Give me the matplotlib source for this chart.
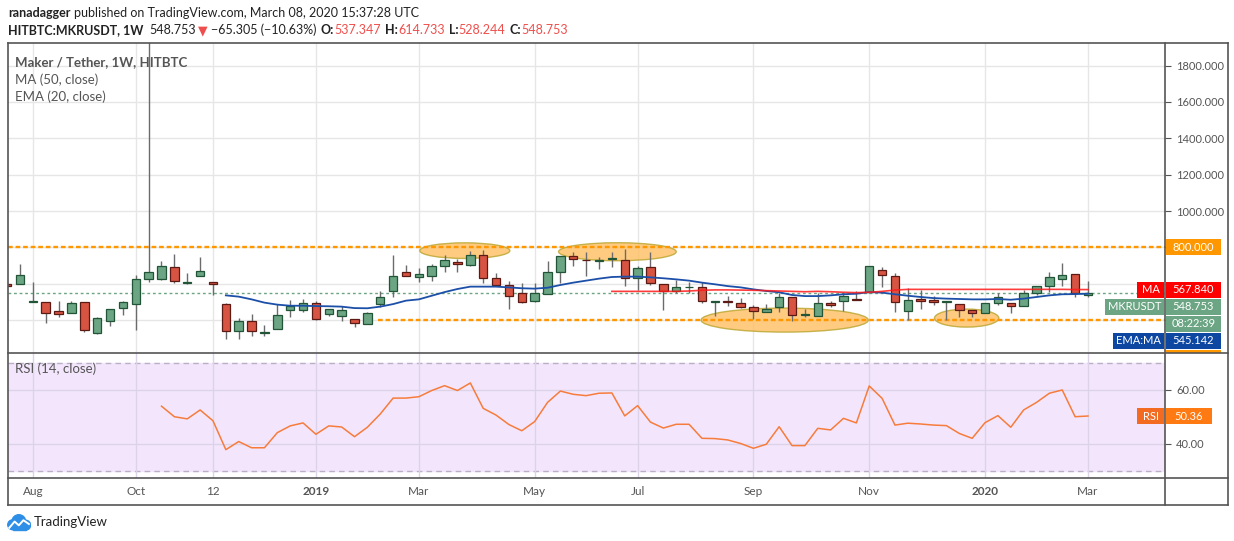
import numpy as np
import pandas as pd
import matplotlib
matplotlib.use("Agg")
import matplotlib.pyplot as plt
import matplotlib.dates as mdates
import matplotlib.transforms as mtransforms
from matplotlib.patches import Rectangle, Ellipse, Circle
from matplotlib.lines import Line2D

plt.rcParams["font.family"] = ["Lato", "DejaVu Sans"]

W, H = 1234, 541

# weekly MKR/USDT candles, first one is the week of 2018-07-23
first_week = "2018-07-23"
opens = [598, 596, 497, 497, 448, 437, 497, 327, 393, 465, 487, 624, 624, 690, 606, 640, 607,
         487, 338, 393, 327, 349, 453, 453, 492, 432, 420, 404, 377, 488, 558, 662, 635, 640,
         695, 717, 701, 756, 629, 591, 547, 503, 541, 662, 750, 732, 723, 734, 728, 629, 690,
         596, 561, 580, 580, 497, 503, 492, 470, 442, 470, 525, 430, 420, 492, 503, 514, 552,
         673, 640, 448, 514, 508, 497, 486, 453, 437, 492, 492, 475, 547, 585, 624, 651, 537.347]
highs = [598, 708, 607, 497, 505, 505, 497, 415, 459, 505, 648, 2000, 725, 763, 659, 747, 607,
         496, 410, 433, 371, 487, 510, 516, 505, 463, 476, 404, 444, 560, 758, 703, 684, 708,
         758, 736, 780, 785, 659, 615, 604, 604, 725, 750, 774, 774, 747, 774, 791, 697, 774,
         596, 618, 607, 607, 503, 530, 519, 481, 486, 547, 525, 459, 547, 503, 547, 558, 695,
         690, 657, 574, 565, 530, 503, 486, 453, 492, 547, 492, 563, 585, 662, 714, 651, 614.733]
lows = [589, 596, 497, 386, 419, 437, 336, 322, 369, 430, 347, 611, 618, 606, 600, 640, 540,
        298, 298, 312, 312, 349, 419, 446, 400, 424, 397, 364, 377, 470, 529, 640, 611, 617,
        662, 662, 695, 606, 591, 461, 492, 497, 541, 606, 699, 644, 679, 690, 589, 567, 594,
        457, 550, 547, 492, 424, 475, 464, 408, 442, 446, 393, 415, 420, 470, 448, 508, 547,
        580, 442, 398, 463, 481, 398, 415, 415, 437, 481, 437, 475, 536, 552, 585, 525, 528.244]
closes = [589, 646, 503, 437, 432, 492, 344, 410, 459, 497, 624, 662, 696, 617, 609, 668, 597,
          338, 393, 338, 332, 426, 477, 492, 408, 463, 453, 382, 437, 525, 640, 640, 651, 695,
          728, 706, 756, 629, 591, 534, 497, 547, 662, 750, 734, 728, 728, 740, 629, 684, 602,
          558, 580, 581, 503, 503, 497, 470, 448, 459, 525, 426, 431, 492, 481, 530, 508, 695,
          646, 497, 508, 503, 497, 503, 453, 437, 492, 525, 475, 547, 585, 635, 646, 547, 548.753]

# EMA(20) from candle 18, MA(50) from candle 48, RSI(14) from candle 13
ema20 = [536, 529, 514, 496, 485, 479, 479, 477, 476, 474, 466, 465, 474, 488, 507, 514, 534,
         554, 571, 584, 584, 584, 580, 575, 573, 578, 593, 606, 617, 628, 637, 639, 639, 635,
         630, 624, 617, 606, 597, 587, 580, 569, 560, 553, 538, 532, 532, 536, 542, 545, 554,
         551, 542, 534, 527, 521, 518, 516, 514, 514, 516, 512, 518, 527, 536, 542, 543, 545.142]
ma50 = [558, 558, 558, 558, 558, 558, 560, 564, 566, 566, 565, 564, 562, 560, 558, 556, 558,
        556, 553, 551, 553, 558, 565, 569, 569, 569, 569, 569, 569, 569, 569, 569, 569, 569,
        569, 569, 568, 567.84]
rsi14 = [54.0, 50.1, 49.3, 52.6, 48.6, 37.9, 40.9, 38.6, 38.6, 44.2, 46.7, 47.8, 43.6, 46.7,
         46.3, 42.7, 46.2, 51.1, 57.0, 57.0, 57.5, 59.8, 61.6, 59.8, 62.6, 53.2, 50.7, 47.2,
         44.9, 48.3, 55.4, 59.6, 58.4, 57.9, 58.8, 58.9, 50.4, 54.2, 48.1, 45.9, 47.3, 47.3,
         42.1, 42.0, 41.5, 40.2, 38.4, 39.9, 46.4, 39.4, 39.4, 45.8, 45.2, 49.5, 47.8, 61.5,
         56.9, 47.0, 47.7, 47.4, 47.0, 46.8, 43.9, 42.1, 47.9, 50.5, 46.2, 52.6, 55.4, 58.8,
         60.0, 50.1, 50.36]
ema_start, ma_start, rsi_start = 17, 47, 12

resistance = 800
support = 400
support_from = "2019-02-10"

tick_dates = ["2018-08-06", "2018-10-01", "2018-11-12", "2019-01-07", "2019-03-04", "2019-05-06",
              "2019-07-01", "2019-09-02", "2019-11-04", "2020-01-06", "2020-03-02"]
tick_labels = ["Aug", "Oct", "12", "2019", "Mar", "May", "Jul", "Sep", "Nov", "2020", "Mar"]

# highlighted zones: centre date, centre price, width (days), height (price)
zone_dates = ["2019-03-29", "2019-06-20", "2019-09-19", "2019-12-27"]
zone_prices = [782, 776, 400, 411]
zone_widths = [49, 64, 91, 35]
zone_heights = [86, 99, 132, 99]

price_ticks = [400, 600, 800, 1000, 1200, 1400, 1600, 1800]
covered_ticks = [400, 600, 800]   # hidden behind the price tags on the right

UP, UP_EDGE = "#6ba583", "#225437"
DN, DN_EDGE = "#d75442", "#5b1a13"
GRID = "#e6e6e6"
TXT = "#555555"


def px_box(x0, y0, x1, y1):
    return [x0 / W, 1 - y1 / H, (x1 - x0) / W, (y1 - y0) / H]


weeks = pd.date_range(first_week, periods=len(closes), freq="7D")
x = mdates.date2num(weeks)
tx = mdates.date2num(pd.to_datetime(tick_dates))

fig = plt.figure(figsize=(W / 100, H / 100), dpi=100)
ax = fig.add_axes(px_box(8, 43, 1165, 353))
rax = fig.add_axes(px_box(8, 353, 1165, 478), sharex=ax)
tax = fig.add_axes(px_box(8, 478, 1165, 505), sharex=ax)

# candles
body_w = 4.6
for xi, o, h, l, c in zip(x, opens, highs, lows, closes):
    up = c >= o
    ax.plot([xi, xi], [l, h], color="#6b6b6e", lw=1.0, zorder=3, solid_capstyle="butt")
    ax.add_patch(Rectangle((xi - body_w / 2, min(o, c)), body_w, max(abs(c - o), 2.5),
                           facecolor=UP if up else DN, edgecolor=UP_EDGE if up else DN_EDGE,
                           lw=0.9, zorder=4))

ax.plot(x[ema_start:], ema20, color="#1c4fa8", lw=1.3, zorder=5)
ax.plot(x[ma_start:], ma50, color="#ff1a1a", lw=1.2, alpha=0.85, zorder=5)

for d, p, w, h in zip(zone_dates, zone_prices, zone_widths, zone_heights):
    ax.add_patch(Ellipse((mdates.date2num(pd.Timestamp(d)), p), w, h, facecolor="#ffbf60",
                         alpha=0.8, edgecolor="#b8a42c", lw=1.0, zorder=2))

xl = (x[0] + 0.5, x[-1] + 41.9)
ax.axhline(resistance, color="#ff9800", lw=1.7, ls=(0, (2, 1.2)), zorder=2.5)
ax.plot([mdates.date2num(pd.Timestamp(support_from)), xl[1]], [support, support],
        color="#ff9800", lw=1.7, ls=(0, (2, 1.2)), zorder=2.5)
ax.axhline(closes[-1], color=UP, lw=1.0, ls=(0, (2, 2)), zorder=2.6)

ax.set_xlim(*xl)
ax.set_ylim(219, 1924)
ax.set_yticks(price_ticks)
ax.set_yticklabels(["" if v in covered_ticks else f"{v:.3f}" for v in price_ticks])
ax.yaxis.tick_right()
ax.set_xticks(tx)
ax.grid(True, color=GRID, lw=1, zorder=0)
ax.tick_params(axis="y", direction="out", length=4, width=0.8, color=TXT,
               labelcolor=TXT, labelsize=8, pad=4)
ax.tick_params(axis="x", length=0, labelbottom=False)

ax.text(7 / 1157, 1 - 19 / 310, "Maker / Tether, 1W, HITBTC", transform=ax.transAxes,
        color="#555555", fontsize=9.5, fontweight="bold", va="center")
ax.text(7 / 1157, 1 - 37 / 310, "MA (50, close)", transform=ax.transAxes,
        color=TXT, fontsize=9.5, va="center")
ax.text(7 / 1157, 1 - 54 / 310, "EMA (20, close)", transform=ax.transAxes,
        color=TXT, fontsize=9.5, va="center")

# RSI pane
rax.axhspan(30, 70, color="#f3e6fc", zorder=0)
for lvl in (30, 70):
    rax.axhline(lvl, color="#b9b0c4", lw=1.0, ls=(0, (4, 3)), zorder=1)
rax.plot(x[rsi_start:], rsi14, color="#f77c3c", lw=1.1, zorder=3)
rax.set_ylim(27.4, 73.7)
rax.set_yticks([40, 60])
rax.set_yticklabels(["40.00", "60.00"])
rax.yaxis.tick_right()
rax.grid(True, color="#ddd3e8", lw=1, zorder=0.5)
rax.tick_params(axis="y", direction="out", length=4, width=0.8, color=TXT,
                labelcolor=TXT, labelsize=8, pad=4)
rax.tick_params(axis="x", length=0, labelbottom=False)
rax.text(7 / 1157, 1 - 16 / 125, "RSI (14, close)", transform=rax.transAxes,
         color=TXT, fontsize=9.5, va="center")

# time axis
tax.set_yticks([])
tax.tick_params(axis="x", length=0, labelbottom=False)
trans = mtransforms.blended_transform_factory(tax.transData, tax.transAxes)
for d, lab in zip(tx, tick_labels):
    tax.text(d, 0.5, lab, transform=trans, ha="center", va="center", color=TXT,
             fontsize=8.5, fontweight="bold" if lab.isdigit() and len(lab) == 4 else "normal")

for a in (ax, rax, tax):
    for s in a.spines.values():
        s.set_visible(False)
    a.set_facecolor("none")


# frame
def hline(y, x0, x1):
    fig.add_artist(Line2D([x0 / W, x1 / W], [1 - y / H] * 2, transform=fig.transFigure,
                          color="#555555", lw=1.2, zorder=7))


def vline(xp, y0, y1):
    fig.add_artist(Line2D([xp / W] * 2, [1 - y0 / H, 1 - y1 / H], transform=fig.transFigure,
                          color="#555555", lw=1.2, zorder=7))


hline(43, 8, 1228)
hline(353, 8, 1228)
hline(478, 8, 1228)
hline(505, 8, 1228)
vline(8, 43, 505)
vline(1228, 43, 505)
vline(1165, 43, 505)


def ypix(a, v):
    return H - a.transData.transform((x[0], v))[1]


def tag(x0, x1, yc, face, label, h=16):
    fig.add_artist(Rectangle((x0 / W, 1 - (yc + h / 2) / H), (x1 - x0) / W, h / H,
                             transform=fig.transFigure, facecolor=face, edgecolor="none", zorder=5))
    if label:
        fig.text((x0 + x1) / 2 / W, 1 - yc / H, label, color="white", fontsize=8,
                 ha="center", va="center", zorder=6)


y_res = ypix(ax, resistance)
tag(1166, 1221, y_res, "#ff9800", f"{resistance:.3f}")
y_ma = ypix(ax, ma50[-1])
tag(1137, 1164, y_ma, "#ff0000", "MA")
tag(1166, 1221, y_ma, "#ff0000", f"{ma50[-1]:.3f}")
tag(1105, 1164, y_ma + 17, UP, "MKRUSDT")
tag(1166, 1221, y_ma + 17, UP, f"{closes[-1]:.3f}")
tag(1166, 1221, y_ma + 34, UP, "08:22:39")
tag(1113, 1164, y_ma + 51, "#0d47a1", "EMA:MA")
tag(1166, 1221, y_ma + 51, "#0d47a1", f"{ema20[-1]:.3f}")
fig.add_artist(Rectangle((1166 / W, 1 - 353 / H), 55 / W, 3.5 / H, transform=fig.transFigure,
                         facecolor="#ff9800", edgecolor="none", zorder=5))
y_rsi = ypix(rax, rsi14[-1])
tag(1137, 1164, y_rsi, "#f26b21", "RSI")
tag(1166, 1212, y_rsi, "#ff7a12", f"{rsi14[-1]:.2f}")

# header
renderer = fig.canvas.get_renderer()


def seq_text(xp, yp, pieces, size=9):
    for s, color, weight, gap in pieces:
        t = fig.text(xp / W, 1 - yp / H, s, color=color, fontsize=size, fontweight=weight,
                     ha="left", va="center")
        xp += t.get_window_extent(renderer).width + gap


DARK, RED = "#222222", "#ef4f4c"
seq_text(8, 13, [("ranadagger", DARK, "bold", 3.5),
                 ("published on TradingView.com, March 08, 2020 15:37:28 UTC", DARK, "normal", 0)])
seq_text(8, 30, [("HITBTC:MKRUSDT, 1W", DARK, "bold", 6),
                 ("548.753", DARK, "normal", 2),
                 ("\u25bc", RED, "normal", 3),
                 ("\u221265.305 (\u221210.63%)", DARK, "normal", 4),
                 ("O:", DARK, "bold", 0.5), ("537.347", RED, "normal", 4),
                 ("H:", DARK, "bold", 0.5), ("614.733", RED, "normal", 4),
                 ("L:", DARK, "bold", 0.5), ("528.244", RED, "normal", 4),
                 ("C:", DARK, "bold", 0.5), ("548.753", RED, "normal", 0)])

# TradingView logo
lax = fig.add_axes(px_box(7, 513, 31, 532))
lax.set_xlim(0, 1.26)
lax.set_ylim(0, 1)
lax.axis("off")
for cx, cy, r in [(0.3, 0.38, 0.26), (0.62, 0.55, 0.36), (0.98, 0.36, 0.26)]:
    lax.add_patch(Circle((cx, cy), r, color="#2f8fe6"))
lax.add_patch(Rectangle((0.3, 0.12), 0.68, 0.3, color="#2f8fe6"))
lax.plot([0.12, 0.4, 0.62, 0.86, 1.15], [0.22, 0.55, 0.35, 0.62, 0.42], color="white", lw=1.4)
fig.text(34 / W, 1 - 522 / H, "TradingView", color="#222222", fontsize=9.5, va="center")

fig.savefig("out.png", dpi=100)
